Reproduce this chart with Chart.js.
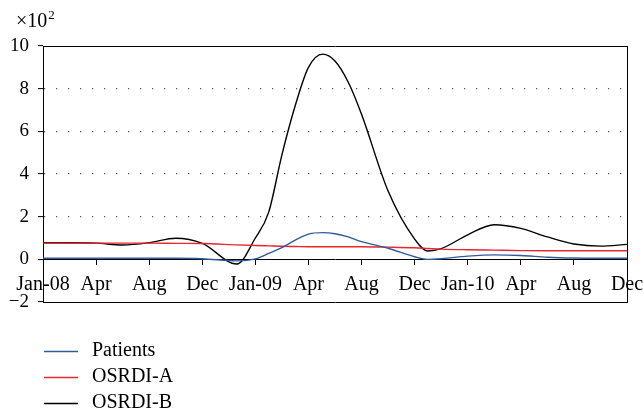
<!DOCTYPE html>
<html>
<head>
<meta charset="utf-8">
<script src="https://cdn.jsdelivr.net/npm/chart.js@4"></script>
<style>
  html, body { margin: 0; padding: 0; background: #fff; }
  #wrap { width: 644px; height: 415px; }
</style>
</head>
<body>
<div id="wrap"><canvas id="chart" width="644" height="415"></canvas></div>
<script>
// tick labels along the bottom (evenly spaced, as in the figure)
const xLabels = ['Jan-08', 'Apr', 'Aug', 'Dec', 'Jan-09', 'Apr', 'Aug', 'Dec', 'Jan-10', 'Apr', 'Aug', 'Dec'];

// sample positions, in units of tick steps
const xPos = [0, 0.5, 1, 1.5, 2, 2.5, 3, 3.65, 4, 4.25, 4.5, 4.75, 5, 5.27, 5.5, 5.75, 6, 6.5, 7, 7.25, 7.5, 8, 8.5, 9, 9.5, 10, 10.5, 11];

// values (x10^2)
const patients = [0.05, 0.05, 0.05, 0.05, 0.05, 0.05, 0.03, -0.07, 0.02, 0.28, 0.55, 0.9, 1.18, 1.25, 1.2, 1.05, 0.83, 0.52, 0.12, 0.0, 0.03, 0.15, 0.21, 0.18, 0.1, 0.06, 0.05, 0.05];
const osrdiA = [0.76, 0.76, 0.76, 0.76, 0.76, 0.75, 0.74, 0.68, 0.65, 0.63, 0.61, 0.6, 0.59, 0.59, 0.59, 0.59, 0.59, 0.57, 0.54, 0.51, 0.48, 0.45, 0.43, 0.41, 0.4, 0.4, 0.4, 0.4];
const osrdiB = [0.78, 0.78, 0.76, 0.67, 0.78, 0.99, 0.75, -0.22, 1.0, 2.2, 4.9, 7.2, 9.0, 9.62, 9.3, 8.3, 6.8, 3.2, 0.95, 0.39, 0.5, 1.15, 1.62, 1.45, 1.05, 0.72, 0.62, 0.7];

const seriesNames = ['Patients', 'OSRDI-A', 'OSRDI-B'];
const seriesColors = ['#2f5b9c', '#e8262b', '#000000'];

const FONT = 'Liberation Serif';

function toPoints(vals) {
    return vals.map((v, i) => ({x: xPos[i], y: v}));
}

// multiplier text and the legend list under the chart
const extras = {
    id: 'extras',
    afterDraw(chart) {
        const ctx = chart.ctx;
        ctx.save();
        ctx.fillStyle = '#000';
        ctx.textBaseline = 'alphabetic';
        ctx.textAlign = 'left';
        ctx.font = '20px "' + FONT + '"';
        ctx.fillText('\u00d710', 16, 27);
        const w = ctx.measureText('\u00d710').width;
        ctx.font = '13px "' + FONT + '"';
        ctx.fillText('2', 16 + w + 1, 19);

        ctx.font = '20px "' + FONT + '"';
        ctx.textBaseline = 'middle';
        chart.data.datasets.forEach((ds, i) => {
            const y = 351 + i * 26;
            ctx.strokeStyle = ds.borderColor;
            ctx.lineWidth = 1.3;
            ctx.beginPath();
            ctx.moveTo(44, y + 0.5);
            ctx.lineTo(78, y + 0.5);
            ctx.stroke();
            ctx.fillText(ds.label, 92, y);
        });
        ctx.restore();
    }
};

const datasets = [patients, osrdiA, osrdiB].map((vals, i) => ({
    label: seriesNames[i],
    data: toPoints(vals),
    borderColor: seriesColors[i],
    backgroundColor: seriesColors[i],
    borderWidth: 1.4,
    pointRadius: 0,
    cubicInterpolationMode: 'monotone',
    fill: false
}));

// plain frame edges, no ticks or labels
function frameAxis(pos, axis) {
    return {
        type: 'linear',
        position: pos,
        axis: axis,
        min: axis === 'x' ? 0 : -2,
        max: axis === 'x' ? 11 : 10,
        border: { display: true, color: '#000', width: 1 },
        grid: { drawOnChartArea: false, drawTicks: false },
        ticks: { display: false },
        afterFit: (s) => {
            if (axis === 'x') { s.height = 0; } else { s.width = 0; }
        }
    };
}

new Chart(document.getElementById('chart'), {
    type: 'line',
    data: { datasets: datasets },
    plugins: [extras],
    options: {
        responsive: false,
        animation: false,
        layout: { padding: { left: 0, right: 17, top: 46, bottom: 113 } },
        plugins: {
            legend: { display: false },
            tooltip: { enabled: false }
        },
        scales: {
            x: {
                type: 'linear',
                min: 0,
                max: 11,
                position: { y: 0 },
                border: { display: true, color: '#000', width: 1 },
                grid: { drawOnChartArea: false, drawTicks: true, tickLength: 5, tickColor: '#000', tickWidth: 1 },
                ticks: {
                    stepSize: 1,
                    autoSkip: false,
                    maxRotation: 0,
                    minRotation: 0,
                    padding: 8,
                    color: '#000',
                    font: { family: FONT, size: 20 },
                    callback: (v) => xLabels[v] || ''
                },
                afterFit: (s) => { s.paddingLeft = 0; s.paddingRight = 0; }
            },
            xTop: frameAxis('top', 'x'),
            xBottom: frameAxis('bottom', 'x'),
            y: {
                min: -2,
                max: 10,
                border: { display: true, color: '#000', width: 1, dash: [1.2, 10.8] },
                grid: {
                    color: (c) => (c.tick && [2, 4, 6, 8].includes(c.tick.value)) ? '#555' : 'rgba(0,0,0,0)',
                    lineWidth: 1.2,
                    drawTicks: true,
                    tickLength: 5,
                    tickColor: '#000',
                    tickWidth: 1
                },
                ticks: {
                    stepSize: 2,
                    padding: 9,
                    color: '#000',
                    font: { family: FONT, size: 19 },
                    callback: (v) => v < 0 ? '\u2212' + Math.abs(v) : String(v)
                },
                afterFit: (s) => { s.width = 43; }
            },
            yRight: frameAxis('right', 'y')
        }
    }
});
</script>
</body>
</html>
